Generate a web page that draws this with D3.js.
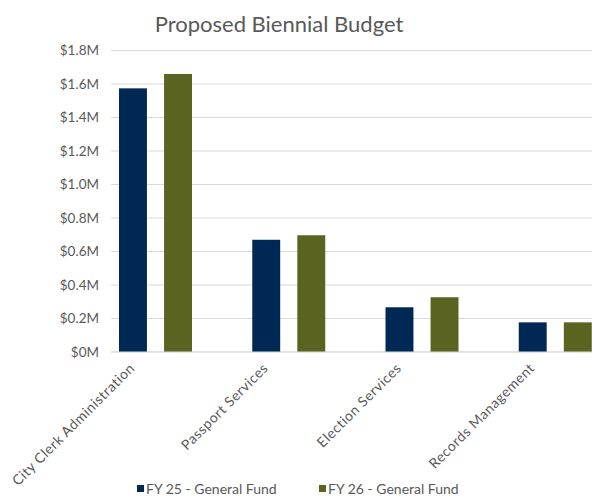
<!DOCTYPE html>
<html>
<head>
<meta charset="utf-8">
<script src="https://cdn.jsdelivr.net/npm/d3@7"></script>
<style>
  body{margin:0;background:#fff;}
  svg{display:block;font-family:'Lato',sans-serif;}
</style>
</head>
<body>
<div id="chart"></div>
<script>
let w=592;
let h=500;

// data
let categories=["City Clerk Administration","Passport Services","Election Services","Records Management"];
let seriesNames=["FY 25 - General Fund","FY 26 - General Fund"];
let fy25=[1.574,0.670,0.267,0.177];
let fy26=[1.660,0.697,0.327,0.177];
let yTicks=[0,0.2,0.4,0.6,0.8,1.0,1.2,1.4,1.6,1.8];
let colors=["#002855","#5a6420"];

let svg=d3.select("#chart").append("svg")
  .attr("width",w)
  .attr("height",h);

let plotLeft=111, plotRight=592, y0=352, yTop=50.5;

let xScale=d3.scaleBand().domain(categories).range([89,622]);
let xInner=d3.scaleBand().domain(seriesNames).range([30,103]).paddingInner(0.38);
let yScale=d3.scaleLinear().domain([0,1.8]).range([y0,yTop]);

// gridlines
svg.selectAll(".grid").data(yTicks).enter()
  .append("line")
  .attr("x1",plotLeft).attr("x2",plotRight)
  .attr("y1",d=>yScale(d)).attr("y2",d=>yScale(d))
  .attr("stroke","#d9d9d9")
  .attr("stroke-width",1);

// y labels
svg.selectAll(".ylab").data(yTicks).enter()
  .append("text")
  .attr("x",99)
  .attr("y",d=>yScale(d))
  .attr("dy","0.35em")
  .attr("text-anchor","end")
  .attr("fill","#595959")
  .style("font-size","13.5px")
  .text(d=>d==0?"$0M":"$"+d.toFixed(1)+"M");

// bars
let rows=categories.map((c,i)=>({cat:c,vals:[fy25[i],fy26[i]]}));
let groups=svg.selectAll(".grp").data(rows).enter()
  .append("g")
  .attr("transform",d=>"translate("+xScale(d.cat)+",0)");

groups.selectAll("rect").data(d=>d.vals.map((v,j)=>({s:seriesNames[j],v:v,j:j}))).enter()
  .append("rect")
  .attr("x",d=>xInner(d.s))
  .attr("width",xInner.bandwidth())
  .attr("y",d=>yScale(d.v))
  .attr("height",d=>y0-yScale(d.v))
  .attr("fill",d=>colors[d.j]);

// axis line
svg.append("line")
  .attr("x1",plotLeft).attr("x2",plotRight)
  .attr("y1",y0).attr("y2",y0)
  .attr("stroke","#d9d9d9");

// category labels
svg.selectAll(".xlab").data(categories).enter()
  .append("text")
  .attr("transform",d=>"translate("+(xScale(d)+xScale.bandwidth()/2-20)+",369) rotate(-45)")
  .attr("text-anchor","end")
  .attr("fill","#595959")
  .style("font-size","14px")
  .style("letter-spacing","0.5px")
  .text(d=>d);

// title
svg.append("text")
  .attr("x",279)
  .attr("y",32)
  .attr("text-anchor","middle")
  .attr("fill","#595959")
  .style("font-size","22px")
  .text("Proposed Biennial Budget");

// legend
let legendX=[137,319];
let legend=svg.selectAll(".leg").data(seriesNames).enter()
  .append("g")
  .attr("transform",(d,i)=>"translate("+legendX[i]+",485)");
legend.append("rect")
  .attr("width",7).attr("height",7)
  .attr("fill",(d,i)=>colors[i]);
legend.append("text")
  .attr("x",9)
  .attr("y",8.5)
  .attr("fill","#595959")
  .style("font-size","14px")
  .text(d=>d);
</script>
</body>
</html>
